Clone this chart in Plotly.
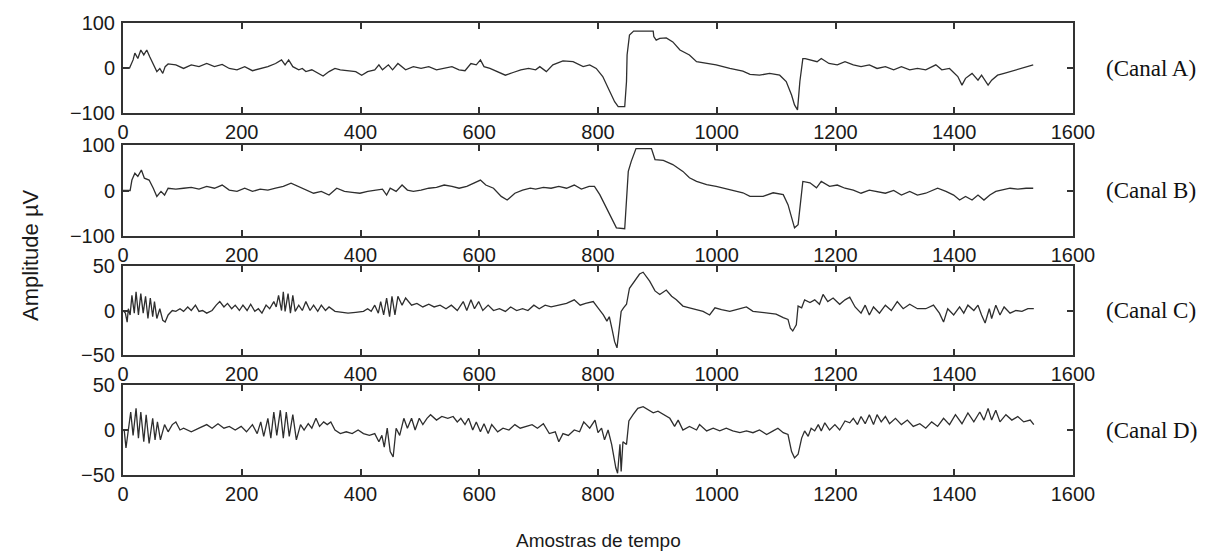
import plotly.graph_objects as go

# ---------------- data (amostra, amplitude µV) ----------------
canal_a = [(0,0),(5,0),(11,0),(17,18),(20,33),(25,21),(30,40),(35,29),(40,40),(45,25),(51,7),(57,-8),(62,-1),(67,-12),(71,3),(76,9),(89,7),(102,-1),(115,7),(128,3),(141,10),(154,3),(167,8),(179,-1),(192,-4),(205,3),(218,-6),(231,-1),(244,3),(257,10),(267,18),(273,7),(279,18),(286,3),(296,-4),(302,-1),(308,-8),(318,-4),(328,-12),(337,-18),(347,-8),(357,-1),(366,-4),(379,-6),(392,-8),(402,-16),(412,-8),(424,-4),(431,7),(437,-4),(447,7),(454,-4),(463,10),(476,-4),(489,3),(502,-1),(515,3),(528,-4),(541,-1),(554,3),(566,-4),(576,-6),(586,10),(595,7),(602,18),(608,3),(618,-1),(631,-8),(644,-16),(657,-10),(670,-4),(683,-1),(695,-4),(702,3),(713,-8),(724,7),(741,16),(758,14),(775,3),(786,7),(797,-1),(808,-19),(820,-53),(828,-75),(834,-86),(845,-86),(848,-30),(849,29),(853,73),(860,82),(893,82),(894,70),(898,62),(904,66),(915,67),(926,58),(938,40),(954,29),(966,14),(983,10),(999,7),(1022,-1),(1044,-7),(1056,-14),(1072,-16),(1089,-12),(1106,-16),(1117,-30),(1126,-60),(1131,-82),(1136,-93),(1140,-30),(1145,21),(1149,21),(1157,18),(1169,14),(1176,21),(1189,10),(1203,7),(1216,14),(1230,7),(1243,3),(1257,7),(1270,-1),(1284,3),(1298,-4),(1311,3),(1325,-4),(1338,-1),(1352,-4),(1369,7),(1379,-4),(1392,-1),(1406,-19),(1413,-38),(1419,-23),(1430,-12),(1440,-27),(1446,-16),(1457,-38),(1463,-27),(1473,-16),(1484,-12),(1494,-8),(1504,-4),(1514,-1),(1524,3),(1533,7)]

canal_b = [(0,0),(5,0),(12,0),(15,23),(20,38),(25,31),(31,45),(36,27),(44,23),(51,5),(57,-13),(64,-2),(70,-10),(76,5),(89,3),(102,5),(115,7),(128,3),(141,9),(154,5),(167,12),(179,1),(192,-2),(205,5),(218,-2),(231,3),(244,1),(257,5),(270,9),(283,16),(296,9),(308,1),(321,-6),(334,-2),(347,-10),(360,5),(373,-2),(386,-4),(399,-6),(412,-2),(424,1),(437,3),(444,-10),(450,5),(460,-2),(470,12),(479,1),(489,-2),(502,1),(515,5),(528,7),(541,12),(554,9),(566,5),(579,9),(592,16),(602,23),(611,12),(624,5),(637,-13),(647,-21),(660,-6),(673,1),(686,5),(695,3),(708,7),(721,5),(734,9),(747,5),(760,12),(772,3),(785,9),(794,9),(803,-9),(814,-38),(825,-68),(831,-82),(845,-84),(848,-30),(851,42),(856,64),(864,92),(890,92),(896,68),(910,66),(926,57),(943,42),(954,28),(966,20),(983,13),(999,9),(1022,2),(1044,-5),(1056,-13),(1078,-13),(1095,-5),(1112,-9),(1120,-31),(1126,-60),(1131,-82),(1137,-75),(1141,-24),(1145,20),(1157,17),(1168,6),(1176,20),(1190,9),(1203,12),(1216,5),(1230,1),(1243,-6),(1257,1),(1270,-2),(1284,-6),(1298,0),(1311,-10),(1325,-2),(1338,-10),(1352,-6),(1372,5),(1386,-2),(1399,-10),(1409,-21),(1419,-13),(1430,-21),(1440,-10),(1450,-21),(1460,-10),(1470,-2),(1480,1),(1494,5),(1507,3),(1521,5),(1533,5)]

canal_c = [(0,0),(4,-3),(7,-13),(9,2),(12,-5),(15,17),(19,-3),(22,21),(26,-5),(30,19),(34,-3),(38,16),(42,-9),(46,14),(50,-7),(53,10),(57,-9),(62,2),(67,-11),(71,-13),(76,-5),(83,0),(89,-1),(96,2),(102,-1),(109,4),(115,0),(122,6),(128,-1),(134,0),(141,-3),(150,0),(157,6),(163,10),(170,4),(176,8),(183,2),(189,6),(196,0),(202,6),(209,0),(215,7),(222,-1),(228,2),(234,-3),(241,6),(247,2),(254,10),(258,4),(262,17),(267,0),(270,21),(273,-1),(278,19),(282,-3),(286,17),(290,-1),(296,6),(302,0),(308,10),(315,0),(321,6),(328,-1),(334,6),(341,0),(347,4),(357,-1),(366,-2),(379,-3),(392,-2),(405,-1),(412,2),(418,-1),(424,6),(430,-3),(434,10),(439,-5),(444,14),(449,-7),(453,16),(458,-5),(463,16),(470,6),(476,14),(486,6),(495,8),(505,4),(515,7),(524,4),(534,6),(544,2),(553,6),(563,0),(573,10),(579,0),(586,12),(592,2),(599,10),(606,0),(615,6),(624,0),(634,2),(644,-1),(653,4),(663,0),(673,2),(682,0),(692,6),(701,2),(711,6),(721,4),(734,6),(747,8),(760,12),(770,6),(779,8),(792,10),(800,3),(809,-5),(815,-12),(819,-7),(824,-22),(828,-35),(832,-42),(835,-27),(839,-1),(843,3),(848,7),(853,25),(862,33),(870,41),(876,43),(881,38),(887,33),(896,22),(904,18),(915,23),(924,16),(932,12),(943,5),(954,3),(966,1),(977,-1),(988,-5),(997,3),(1008,1),(1022,-1),(1033,1),(1050,4),(1061,-1),(1072,-2),(1084,-3),(1100,-4),(1112,-8),(1120,-10),(1124,-20),(1128,-23),(1134,-16),(1137,5),(1143,3),(1148,12),(1157,9),(1165,12),(1173,7),(1179,18),(1187,10),(1196,14),(1207,7),(1216,12),(1224,15),(1233,4),(1243,-3),(1250,6),(1257,-5),(1264,4),(1274,-3),(1284,6),(1294,0),(1304,10),(1314,2),(1325,7),(1338,2),(1352,2),(1365,6),(1375,-3),(1382,-13),(1389,2),(1399,-5),(1409,4),(1416,-3),(1423,6),(1433,0),(1440,6),(1446,-5),(1452,-14),(1459,2),(1463,-9),(1470,6),(1477,-5),(1484,4),(1494,-3),(1504,0),(1514,-1),(1524,2),(1534,2)]

canal_d = [(0,0),(2,0),(5,-20),(8,-6),(13,20),(17,-6),(22,24),(26,-9),(30,20),(35,-13),(39,17),(44,-15),(50,13),(54,-11),(58,9),(63,-11),(70,6),(76,-2),(83,6),(89,9),(96,0),(102,2),(115,-2),(128,2),(141,6),(150,2),(160,7),(170,2),(179,4),(189,0),(199,4),(208,-2),(218,6),(226,-4),(232,9),(237,-7),(244,13),(249,-9),(254,20),(259,-6),(265,22),(270,-9),(275,20),(280,-7),(286,17),(292,-11),(299,6),(305,0),(312,7),(318,2),(325,13),(331,4),(338,9),(344,6),(350,9),(357,0),(366,-4),(376,-2),(386,-4),(396,0),(405,-4),(415,-6),(424,-4),(431,-13),(436,-6),(440,-19),(445,2),(450,-24),(455,-30),(460,2),(466,-6),(473,13),(479,2),(486,13),(492,0),(499,13),(505,6),(512,13),(518,17),(528,11),(537,15),(547,13),(556,15),(563,9),(569,13),(576,6),(582,13),(589,0),(595,9),(602,-2),(608,7),(615,-4),(621,6),(631,-2),(640,2),(650,0),(660,6),(669,2),(679,4),(689,6),(698,2),(708,7),(718,-4),(728,-2),(734,-13),(741,-4),(750,-6),(760,0),(769,-2),(776,9),(786,2),(795,11),(800,-3),(806,2),(811,-11),(817,0),(823,-16),(826,-27),(830,-42),(833,-48),(837,-16),(839,-46),(842,-13),(848,-16),(852,10),(859,17),(867,24),(876,26),(884,23),(893,19),(901,21),(910,17),(921,13),(929,4),(935,11),(943,0),(954,4),(966,0),(971,6),(983,-1),(994,2),(1005,-1),(1016,2),(1027,-1),(1039,-3),(1050,-1),(1061,-3),(1072,0),(1084,-5),(1095,-1),(1103,2),(1112,-3),(1120,-5),(1126,-24),(1131,-31),(1137,-27),(1143,-9),(1148,-1),(1154,-7),(1159,2),(1165,-1),(1171,6),(1176,-1),(1182,8),(1190,0),(1199,6),(1207,0),(1216,10),(1224,8),(1230,13),(1237,6),(1243,15),(1250,7),(1257,17),(1264,6),(1270,17),(1277,9),(1284,15),(1291,7),(1301,13),(1311,6),(1321,11),(1331,4),(1342,7),(1352,2),(1362,9),(1372,4),(1382,13),(1392,6),(1402,17),(1413,7),(1423,19),(1433,9),(1443,20),(1450,11),(1457,24),(1463,11),(1470,22),(1477,9),(1487,17),(1497,11),(1507,15),(1517,9),(1528,11),(1534,6)]

canais = ["(Canal A)", "(Canal B)", "(Canal C)", "(Canal D)"]
x_ticks = [0, 200, 400, 600, 800, 1000, 1200, 1400, 1600]
y_ticks_ab = [-100, 0, 100]
y_ticks_cd = [-50, 0, 50]
x_title = "Amostras de tempo"
y_title = "Amplitude µV"

# ---------------- layout helpers ----------------
W, H = 1210, 554
panels_px = [(23, 113), (145, 236), (266, 355), (385, 475)]  # top, bottom in page px
x_left, x_right = 123, 1073

series = [canal_a, canal_b, canal_c, canal_d]
yticks = [y_ticks_ab, y_ticks_ab, y_ticks_cd, y_ticks_cd]

fig = go.Figure()
line_col = "#2e2e2e"
axis_col = "#333333"
tick_font = dict(family="Liberation Sans, Arial, sans-serif", size=20, color="#1a1a1a")

for i, (data, yt) in enumerate(zip(series, yticks)):
    n = "" if i == 0 else str(i + 1)
    fig.add_trace(go.Scatter(
        x=[p[0] for p in data], y=[p[1] for p in data],
        mode="lines", line=dict(color=line_col, width=1.3),
        xaxis="x" + n, yaxis="y" + n, showlegend=False, hoverinfo="skip"))
    top, bot = panels_px[i]
    fig.layout["xaxis" + n] = dict(
        domain=[x_left / W, x_right / W], anchor="y" + n, range=[0, 1600],
        tickvals=x_ticks, ticks="inside", ticklen=6, tickwidth=1.5, tickcolor=axis_col,
        showline=True, linecolor=axis_col, linewidth=2, mirror="ticks",
        showgrid=False, zeroline=False, tickfont=tick_font, ticklabelstandoff=0,
        automargin=False)
    fig.layout["yaxis" + n] = dict(
        domain=[1 - bot / H, 1 - top / H], anchor="x" + n, range=[yt[0], yt[-1]],
        tickvals=yt, ticks="inside", ticklen=6, tickwidth=1.5, tickcolor=axis_col,
        showline=True, linecolor=axis_col, linewidth=2, mirror="ticks",
        showgrid=False, zeroline=False, tickfont=tick_font, ticklabelstandoff=2,
        automargin=False)
    fig.add_annotation(text=canais[i], xref="paper", x=1104 / W, xanchor="left",
                       yref="y" + n, y=0, yanchor="middle", showarrow=False,
                       font=dict(family="Liberation Serif, Times New Roman, serif", size=23, color="#111"))

fig.add_annotation(text=y_title, xref="paper", yref="paper", x=30 / W, y=1 - 255 / H,
                   textangle=-90, showarrow=False, xanchor="center", yanchor="middle",
                   font=dict(family="Liberation Sans, Arial, sans-serif", size=22, color="#1a1a1a"))
fig.add_annotation(text=x_title, xref="paper", yref="paper", x=598 / W, y=1 - 540 / H,
                   showarrow=False, xanchor="center", yanchor="middle",
                   font=dict(family="Liberation Sans, Arial, sans-serif", size=19, color="#1a1a1a"))

fig.update_layout(width=W, height=H, margin=dict(l=0, r=0, t=0, b=0, autoexpand=False),
                  paper_bgcolor="white", plot_bgcolor="white")
fig.write_html("out.html")
